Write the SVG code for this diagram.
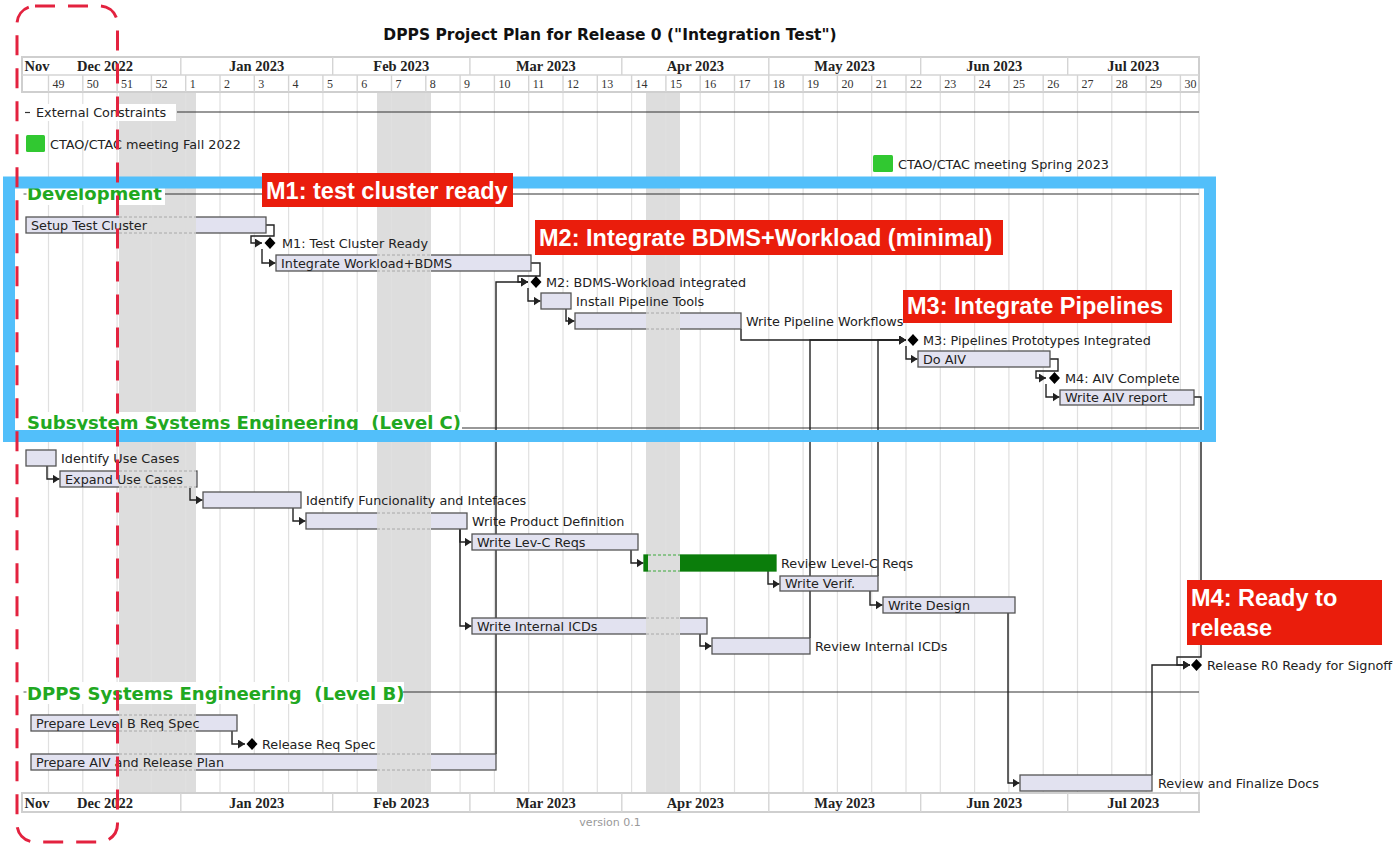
<svg xmlns="http://www.w3.org/2000/svg" width="1397" height="846" viewBox="0 0 1397 846">
<style>
  .closed{fill:#dddddd}
  .vgrid{stroke:#e0e0e0;stroke-width:1.2}
  .hdrbox{fill:#fff;stroke:#cfcfcf;stroke-width:2}
  .hdrline{stroke:#d4d4d4;stroke-width:1.4}
  .mon{font-family:"Liberation Serif","Times New Roman",serif;font-weight:bold;font-size:14.5px;fill:#222;text-anchor:middle}
  .wk{font-family:"Liberation Serif","Times New Roman",serif;font-size:12px;fill:#333}
  .title{font-family:"DejaVu Sans",Verdana,sans-serif;font-weight:bold;font-size:15.5px;fill:#111;text-anchor:middle}
  .lbl{font-family:"DejaVu Sans",Verdana,sans-serif;font-size:12.8px;fill:#222}
  .sec{font-family:"DejaVu Sans",Verdana,sans-serif;font-weight:bold;font-size:18px;fill:#21a821;white-space:pre}
  .secbg{fill:#fff}
  .secline{stroke:#333;stroke-width:1.2}
  .bar{fill:#e2e2f0;stroke:#555;stroke-width:1.3}
  .gbar{fill:#0b7d0b;stroke:#0b7d0b;stroke-width:1.3}
  .gap{fill:#dddddd}
  .gapline{fill:none;stroke:#a8a8a8;stroke-width:1;stroke-dasharray:3 2}
  .ggapline{fill:none;stroke:#3aa83a;stroke-width:1;stroke-dasharray:3 2}
  .link{fill:none;stroke:#222;stroke-width:1.4}
  .ms{fill:#000}
  .meet{fill:#31c831}
  .note rect{fill:#ea1d0c}
  .note text{font-family:"Liberation Sans",Arial,sans-serif;font-weight:bold;font-size:23.5px;fill:#fff}
  .frame{fill:none;stroke:#52bffa;stroke-width:12}
  .focus{fill:none;stroke:#e3223f;stroke-width:3;stroke-dasharray:20 13}
  .ver{font-family:"DejaVu Sans",Verdana,sans-serif;font-size:11px;fill:#999;text-anchor:middle}
</style>
<defs>
  <marker id="arrow" markerUnits="userSpaceOnUse" markerWidth="8" markerHeight="9" refX="7" refY="4.5" orient="auto">
    <path d="M0,0 L7,4.5 L0,9 z" fill="#222"/>
  </marker>
</defs>

<rect x="0" y="0" width="1397" height="846" fill="#fff"/>

<!-- calendar background: closed periods and week grid -->
<g id="calendar">
  <rect class="closed" x="119" y="92" width="77" height="701"/>
  <rect class="closed" x="377" y="92" width="54" height="701"/>
  <rect class="closed" x="646" y="92" width="34" height="701"/>
  <g class="vgrid">
    <line x1="48.5" y1="92" x2="48.5" y2="793"/><line x1="82.8" y1="92" x2="82.8" y2="793"/>
    <line x1="117.1" y1="92" x2="117.1" y2="793"/><line x1="151.4" y1="92" x2="151.4" y2="793"/>
    <line x1="185.7" y1="92" x2="185.7" y2="793"/><line x1="220" y1="92" x2="220" y2="793"/>
    <line x1="254.3" y1="92" x2="254.3" y2="793"/><line x1="288.6" y1="92" x2="288.6" y2="793"/>
    <line x1="322.9" y1="92" x2="322.9" y2="793"/><line x1="357.2" y1="92" x2="357.2" y2="793"/>
    <line x1="391.5" y1="92" x2="391.5" y2="793"/><line x1="425.8" y1="92" x2="425.8" y2="793"/>
    <line x1="460.1" y1="92" x2="460.1" y2="793"/><line x1="494.4" y1="92" x2="494.4" y2="793"/>
    <line x1="528.7" y1="92" x2="528.7" y2="793"/><line x1="563" y1="92" x2="563" y2="793"/>
    <line x1="597.3" y1="92" x2="597.3" y2="793"/><line x1="631.6" y1="92" x2="631.6" y2="793"/>
    <line x1="665.9" y1="92" x2="665.9" y2="793"/><line x1="700.2" y1="92" x2="700.2" y2="793"/>
    <line x1="734.5" y1="92" x2="734.5" y2="793"/><line x1="768.8" y1="92" x2="768.8" y2="793"/>
    <line x1="803.1" y1="92" x2="803.1" y2="793"/><line x1="837.4" y1="92" x2="837.4" y2="793"/>
    <line x1="871.7" y1="92" x2="871.7" y2="793"/><line x1="906" y1="92" x2="906" y2="793"/>
    <line x1="940.3" y1="92" x2="940.3" y2="793"/><line x1="974.6" y1="92" x2="974.6" y2="793"/>
    <line x1="1008.9" y1="92" x2="1008.9" y2="793"/><line x1="1043.2" y1="92" x2="1043.2" y2="793"/>
    <line x1="1077.5" y1="92" x2="1077.5" y2="793"/><line x1="1111.8" y1="92" x2="1111.8" y2="793"/>
    <line x1="1146.1" y1="92" x2="1146.1" y2="793"/><line x1="1180.4" y1="92" x2="1180.4" y2="793"/>
    <line x1="1199" y1="92" x2="1199" y2="793"/>
  </g>
</g>

<!-- top timeline header: months and ISO weeks -->
<g id="header-top">
  <rect class="hdrbox" x="22" y="57" width="1177" height="35"/>
  <g class="hdrline">
    <line x1="22" y1="75" x2="1199" y2="75"/>
    <line x1="180.8" y1="57" x2="180.8" y2="75"/><line x1="332.7" y1="57" x2="332.7" y2="75"/>
    <line x1="469.9" y1="57" x2="469.9" y2="75"/><line x1="621.8" y1="57" x2="621.8" y2="75"/>
    <line x1="768.8" y1="57" x2="768.8" y2="75"/><line x1="920.7" y1="57" x2="920.7" y2="75"/>
    <line x1="1067.7" y1="57" x2="1067.7" y2="75"/>
    <line x1="48.5" y1="75" x2="48.5" y2="92"/><line x1="82.8" y1="75" x2="82.8" y2="92"/>
    <line x1="117.1" y1="75" x2="117.1" y2="92"/><line x1="151.4" y1="75" x2="151.4" y2="92"/>
    <line x1="185.7" y1="75" x2="185.7" y2="92"/><line x1="220" y1="75" x2="220" y2="92"/>
    <line x1="254.3" y1="75" x2="254.3" y2="92"/><line x1="288.6" y1="75" x2="288.6" y2="92"/>
    <line x1="322.9" y1="75" x2="322.9" y2="92"/><line x1="357.2" y1="75" x2="357.2" y2="92"/>
    <line x1="391.5" y1="75" x2="391.5" y2="92"/><line x1="425.8" y1="75" x2="425.8" y2="92"/>
    <line x1="460.1" y1="75" x2="460.1" y2="92"/><line x1="494.4" y1="75" x2="494.4" y2="92"/>
    <line x1="528.7" y1="75" x2="528.7" y2="92"/><line x1="563" y1="75" x2="563" y2="92"/>
    <line x1="597.3" y1="75" x2="597.3" y2="92"/><line x1="631.6" y1="75" x2="631.6" y2="92"/>
    <line x1="665.9" y1="75" x2="665.9" y2="92"/><line x1="700.2" y1="75" x2="700.2" y2="92"/>
    <line x1="734.5" y1="75" x2="734.5" y2="92"/><line x1="768.8" y1="75" x2="768.8" y2="92"/>
    <line x1="803.1" y1="75" x2="803.1" y2="92"/><line x1="837.4" y1="75" x2="837.4" y2="92"/>
    <line x1="871.7" y1="75" x2="871.7" y2="92"/><line x1="906" y1="75" x2="906" y2="92"/>
    <line x1="940.3" y1="75" x2="940.3" y2="92"/><line x1="974.6" y1="75" x2="974.6" y2="92"/>
    <line x1="1008.9" y1="75" x2="1008.9" y2="92"/><line x1="1043.2" y1="75" x2="1043.2" y2="92"/>
    <line x1="1077.5" y1="75" x2="1077.5" y2="92"/><line x1="1111.8" y1="75" x2="1111.8" y2="92"/>
    <line x1="1146.1" y1="75" x2="1146.1" y2="92"/><line x1="1180.4" y1="75" x2="1180.4" y2="92"/>
  </g>
  <text class="mon" x="37" y="71">Nov</text>
  <text class="mon" x="105" y="71">Dec 2022</text>
  <text class="mon" x="256.7" y="71">Jan 2023</text>
  <text class="mon" x="401.3" y="71">Feb 2023</text>
  <text class="mon" x="545.8" y="71">Mar 2023</text>
  <text class="mon" x="695.3" y="71">Apr 2023</text>
  <text class="mon" x="844.7" y="71">May 2023</text>
  <text class="mon" x="994.2" y="71">Jun 2023</text>
  <text class="mon" x="1133.3" y="71">Jul 2023</text>
  <g class="wk">
    <text x="52.5" y="88">49</text><text x="86.8" y="88">50</text><text x="121.1" y="88">51</text>
    <text x="155.4" y="88">52</text><text x="189.7" y="88">1</text><text x="224" y="88">2</text>
    <text x="258.3" y="88">3</text><text x="292.6" y="88">4</text><text x="326.9" y="88">5</text>
    <text x="361.2" y="88">6</text><text x="395.5" y="88">7</text><text x="429.8" y="88">8</text>
    <text x="464.1" y="88">9</text><text x="498.4" y="88">10</text><text x="532.7" y="88">11</text>
    <text x="567" y="88">12</text><text x="601.3" y="88">13</text><text x="635.6" y="88">14</text>
    <text x="669.9" y="88">15</text><text x="704.2" y="88">16</text><text x="738.5" y="88">17</text>
    <text x="772.8" y="88">18</text><text x="807.1" y="88">19</text><text x="841.4" y="88">20</text>
    <text x="875.7" y="88">21</text><text x="910" y="88">22</text><text x="944.3" y="88">23</text>
    <text x="978.6" y="88">24</text><text x="1012.9" y="88">25</text><text x="1047.2" y="88">26</text>
    <text x="1081.5" y="88">27</text><text x="1115.8" y="88">28</text><text x="1150.1" y="88">29</text>
    <text x="1184.4" y="88">30</text>
  </g>
</g>

<!-- bottom timeline header: months only -->
<g id="header-bottom">
  <rect class="hdrbox" x="22" y="793" width="1177" height="19"/>
  <g class="hdrline">
    <line x1="180.8" y1="793" x2="180.8" y2="812"/><line x1="332.7" y1="793" x2="332.7" y2="812"/>
    <line x1="469.9" y1="793" x2="469.9" y2="812"/><line x1="621.8" y1="793" x2="621.8" y2="812"/>
    <line x1="768.8" y1="793" x2="768.8" y2="812"/><line x1="920.7" y1="793" x2="920.7" y2="812"/>
    <line x1="1067.7" y1="793" x2="1067.7" y2="812"/>
  </g>
  <text class="mon" x="37" y="808">Nov</text>
  <text class="mon" x="105" y="808">Dec 2022</text>
  <text class="mon" x="256.7" y="808">Jan 2023</text>
  <text class="mon" x="401.3" y="808">Feb 2023</text>
  <text class="mon" x="545.8" y="808">Mar 2023</text>
  <text class="mon" x="695.3" y="808">Apr 2023</text>
  <text class="mon" x="844.7" y="808">May 2023</text>
  <text class="mon" x="994.2" y="808">Jun 2023</text>
  <text class="mon" x="1133.3" y="808">Jul 2023</text>
</g>

<text id="title" class="title" x="610" y="40">DPPS Project Plan for Release 0 ("Integration Test")</text>
<text id="version" class="ver" x="610" y="826">version 0.1</text>

<!-- section separators -->
<g id="sec-external">
  <rect class="secbg" x="23" y="104" width="153" height="17"/>
  <line x1="25" y1="112.5" x2="30" y2="112.5" stroke="#333" stroke-width="1.2"/>
  <text class="lbl" x="36" y="117">External Constraints</text>
  <line class="secline" x1="177" y1="112" x2="1199" y2="112" stroke-width="1.8" stroke="#555"/>
</g>
<g id="sec-development">
  <rect class="secbg" x="23" y="184" width="142" height="21"/>
  <line x1="23.5" y1="194" x2="26.5" y2="194" stroke="#555" stroke-width="1"/>
  <text class="sec" x="27" y="200">Development</text>
  <line class="secline" x1="165" y1="194" x2="1199" y2="194"/>
</g>
<g id="sec-subsystem">
  <rect class="secbg" x="23" y="412" width="440" height="22"/>
  <text class="sec" x="27" y="429">Subsystem Systems Engineering  (Level C)</text>
  <line class="secline" x1="462" y1="428" x2="1199" y2="428"/>
</g>
<g id="sec-dpps">
  <rect class="secbg" x="23" y="682" width="381" height="22"/>
  <line x1="23.5" y1="692" x2="26.5" y2="692" stroke="#555" stroke-width="1"/>
  <text class="sec" x="27" y="700">DPPS Systems Engineering  (Level B)</text>
  <line class="secline" x1="403" y1="692" x2="1199" y2="692"/>
</g>

<!-- external meetings -->
<g id="meeting-fall-2022">
  <rect class="meet" x="26" y="135" width="19" height="17" rx="1.5"/>
  <text class="lbl" x="50" y="148.5">CTAO/CTAC meeting Fall 2022</text>
</g>
<g id="meeting-spring-2023">
  <rect class="meet" x="873" y="155" width="20" height="17" rx="1.5"/>
  <text class="lbl" x="898" y="168.5">CTAO/CTAC meeting Spring 2023</text>
</g>

<!-- dependency links -->
<g id="connectors" class="link">
  <path d="M266,225 H274 V236 H251 V243 H262" marker-end="url(#arrow)"/>
  <path d="M262,249 V263 H275.5" marker-end="url(#arrow)"/>
  <path d="M531,263 H540 V276 H518 V282 H528" marker-end="url(#arrow)"/>
  <path d="M496,754 V282 H528" marker-end="url(#arrow)"/>
  <path d="M528,288 V301 H540.5" marker-end="url(#arrow)"/>
  <path d="M566,309 V321 H574.5" marker-end="url(#arrow)"/>
  <path d="M741,329 V340 H906" marker-end="url(#arrow)"/>
  <path d="M810,638 V340 H906" marker-end="url(#arrow)"/>
  <path d="M878,576 V340 H906" marker-end="url(#arrow)"/>
  <path d="M906,346 V359 H917.5" marker-end="url(#arrow)"/>
  <path d="M1050,359 H1058 V371 H1036 V378 H1046" marker-end="url(#arrow)"/>
  <path d="M1046,384 V397 H1059.5" marker-end="url(#arrow)"/>
  <path d="M1194,397 H1201 V657 H1177 V665 H1190" marker-end="url(#arrow)"/>
  <path d="M1152,775 V665 H1190" marker-end="url(#arrow)"/>
  <path d="M47,466 V479 H59.5" marker-end="url(#arrow)"/>
  <path d="M190,487 V500 H202.5" marker-end="url(#arrow)"/>
  <path d="M293,508 V521 H305.5" marker-end="url(#arrow)"/>
  <path d="M460,529 V542 H471.5" marker-end="url(#arrow)"/>
  <path d="M460,529 V626 H471.5" marker-end="url(#arrow)"/>
  <path d="M631,550 V563 H643.5" marker-end="url(#arrow)"/>
  <path d="M768,571 V584 H779.5" marker-end="url(#arrow)"/>
  <path d="M870,591 V605 H882.5" marker-end="url(#arrow)"/>
  <path d="M700,634 V646 H711.5" marker-end="url(#arrow)"/>
  <path d="M1008,613 V783 H1019.5" marker-end="url(#arrow)"/>
  <path d="M232,731 V744 H245" marker-end="url(#arrow)"/>
</g>

<!-- Development tasks -->
<g id="task-setup-test-cluster">
  <rect class="bar" x="26" y="217" width="240" height="16"/>
  <rect class="gap" x="119" y="216" width="77" height="18"/>
  <path class="gapline" d="M119,217H196M119,233H196"/>
  <text class="lbl" x="31" y="229.5">Setup Test Cluster</text>
</g>
<g id="ms-m1">
  <polygon class="ms" points="264.5,243 270,237 275.5,243 270,249"/>
  <text class="lbl" x="282" y="247.5">M1: Test Cluster Ready</text>
</g>
<g id="task-integrate-workload-bdms">
  <rect class="bar" x="276" y="255" width="255" height="16"/>
  <rect class="gap" x="377" y="254" width="54" height="18"/>
  <path class="gapline" d="M377,255H431M377,271H431"/>
  <text class="lbl" x="281" y="267.5">Integrate Workload+BDMS</text>
</g>
<g id="ms-m2">
  <polygon class="ms" points="530.5,282 536,276 541.5,282 536,288"/>
  <text class="lbl" x="546" y="286.5">M2: BDMS-Workload integrated</text>
</g>
<g id="task-install-pipeline-tools">
  <rect class="bar" x="541" y="293" width="30" height="16"/>
  <text class="lbl" x="576" y="305.5">Install Pipeline Tools</text>
</g>
<g id="task-write-pipeline-workflows">
  <rect class="bar" x="575" y="313" width="166" height="16"/>
  <rect class="gap" x="646" y="312" width="34" height="18"/>
  <path class="gapline" d="M646,313H680M646,329H680"/>
  <text class="lbl" x="746" y="325.5">Write Pipeline Workflows</text>
</g>
<g id="ms-m3">
  <polygon class="ms" points="907.5,340 913,334 918.5,340 913,346"/>
  <text class="lbl" x="923" y="344.5">M3: Pipelines Prototypes Integrated</text>
</g>
<g id="task-do-aiv">
  <rect class="bar" x="918" y="351" width="132" height="16"/>
  <text class="lbl" x="923" y="363.5">Do AIV</text>
</g>
<g id="ms-m4">
  <polygon class="ms" points="1049,378 1054.5,372 1060,378 1054.5,384"/>
  <text class="lbl" x="1065" y="382.5">M4: AIV Complete</text>
</g>
<g id="task-write-aiv-report">
  <rect class="bar" x="1060" y="390" width="134" height="15"/>
  <text class="lbl" x="1065" y="402">Write AIV report</text>
</g>

<!-- Subsystem (Level C) tasks -->
<g id="task-identify-use-cases">
  <rect class="bar" x="26" y="450" width="30" height="16"/>
  <text class="lbl" x="61" y="462.5">Identify Use Cases</text>
</g>
<g id="task-expand-use-cases">
  <rect class="bar" x="60" y="471" width="137" height="16"/>
  <rect class="gap" x="119" y="470" width="77" height="18"/>
  <path class="gapline" d="M119,471H196M119,487H196"/>
  <text class="lbl" x="65" y="483.5">Expand Use Cases</text>
</g>
<g id="task-identify-functionality">
  <rect class="bar" x="203" y="492" width="98" height="16"/>
  <text class="lbl" x="306" y="504.5">Identify Funcionality and Intefaces</text>
</g>
<g id="task-write-product-definition">
  <rect class="bar" x="306" y="513" width="161" height="16"/>
  <rect class="gap" x="377" y="512" width="54" height="18"/>
  <path class="gapline" d="M377,513H431M377,529H431"/>
  <text class="lbl" x="472" y="525.5">Write Product Definition</text>
</g>
<g id="task-write-lev-c-reqs">
  <rect class="bar" x="472" y="534" width="166" height="16"/>
  <text class="lbl" x="477" y="546.5">Write Lev-C Reqs</text>
</g>
<g id="task-review-level-c-reqs">
  <rect class="gbar" x="644" y="555" width="132" height="16"/>
  <rect class="gap" x="648" y="554" width="32" height="18"/>
  <path class="ggapline" d="M648,555H680M648,571H680"/>
  <text class="lbl" x="781" y="567.5">Review Level-C Reqs</text>
</g>
<g id="task-write-verif">
  <rect class="bar" x="780" y="576" width="98" height="15"/>
  <text class="lbl" x="785" y="588">Write Verif.</text>
</g>
<g id="task-write-design">
  <rect class="bar" x="883" y="597" width="132" height="16"/>
  <text class="lbl" x="888" y="609.5">Write Design</text>
</g>
<g id="task-write-internal-icds">
  <rect class="bar" x="472" y="618" width="235" height="16"/>
  <rect class="gap" x="646" y="617" width="34" height="18"/>
  <path class="gapline" d="M646,618H680M646,634H680"/>
  <text class="lbl" x="477" y="630.5">Write Internal ICDs</text>
</g>
<g id="task-review-internal-icds">
  <rect class="bar" x="712" y="638" width="98" height="16"/>
  <text class="lbl" x="815" y="650.5">Review Internal ICDs</text>
</g>
<g id="ms-release-r0">
  <polygon class="ms" points="1191,665 1196.5,659 1202,665 1196.5,671"/>
  <text class="lbl" x="1207" y="669.5">Release R0 Ready for Signoff</text>
</g>

<!-- DPPS (Level B) tasks -->
<g id="task-prepare-level-b-req-spec">
  <rect class="bar" x="31" y="715" width="206" height="16"/>
  <rect class="gap" x="119" y="714" width="77" height="18"/>
  <path class="gapline" d="M119,715H196M119,731H196"/>
  <text class="lbl" x="36" y="727.5">Prepare Level B Req Spec</text>
</g>
<g id="ms-release-req-spec">
  <polygon class="ms" points="246.5,744 252,738 257.5,744 252,750"/>
  <text class="lbl" x="262" y="748.5">Release Req Spec</text>
</g>
<g id="task-prepare-aiv-release-plan">
  <rect class="bar" x="31" y="754" width="465" height="16"/>
  <rect class="gap" x="119" y="753" width="77" height="18"/>
  <rect class="gap" x="377" y="753" width="54" height="18"/>
  <path class="gapline" d="M119,754H196M119,770H196M377,754H431M377,770H431"/>
  <text class="lbl" x="36" y="766.5">Prepare AIV and Release Plan</text>
</g>
<g id="task-review-finalize-docs">
  <rect class="bar" x="1020" y="775" width="132" height="16"/>
  <text class="lbl" x="1158" y="787.5">Review and Finalize Docs</text>
</g>

<!-- highlight frame around the development block -->
<rect id="dev-frame" class="frame" x="9" y="182.5" width="1201" height="253.5"/>

<!-- milestone callouts -->
<g id="note-m1" class="note">
  <rect x="262" y="173" width="251" height="34"/>
  <text x="266" y="198.5">M1: test cluster ready</text>
</g>
<g id="note-m2" class="note">
  <rect x="535" y="220" width="468" height="35"/>
  <text x="539" y="246">M2: Integrate BDMS+Workload (minimal)</text>
</g>
<g id="note-m3" class="note">
  <rect x="903" y="290" width="269" height="33"/>
  <text x="907" y="314">M3: Integrate Pipelines</text>
</g>
<g id="note-m4" class="note">
  <rect x="1187" y="580" width="195" height="65"/>
  <text x="1191" y="606">M4: Ready to</text>
  <text x="1191" y="636">release</text>
</g>

<!-- dashed focus outline over the first weeks -->
<rect id="focus-window" class="focus" x="17" y="6" width="100.5" height="836" rx="18"/>
</svg>
